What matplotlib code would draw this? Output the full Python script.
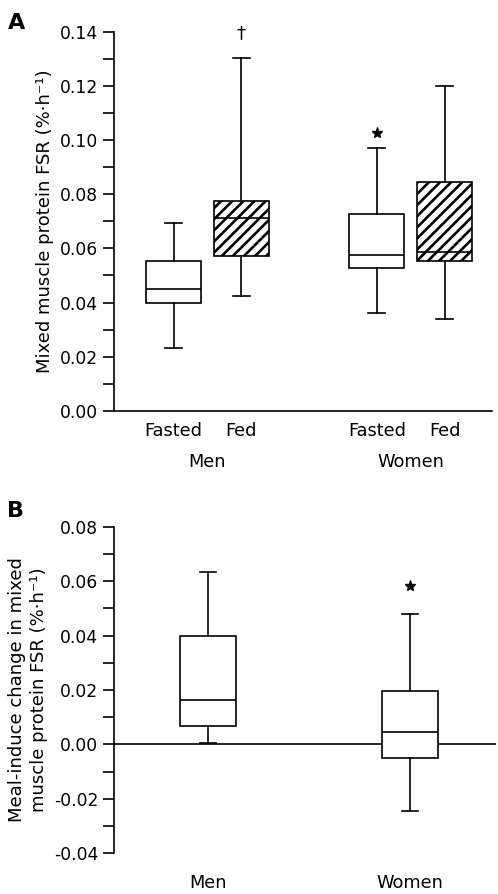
import matplotlib.pyplot as plt
from matplotlib.ticker import MultipleLocator

plt.rcParams['font.family'] = ['DejaVu Sans']
plt.rcParams['axes.unicode_minus'] = False
plt.rcParams['hatch.linewidth'] = 1.9

# panel A: FSR by condition (box stats)
cond_a = ["Fasted", "Fed", "Fasted", "Fed"]
sex_a = ["Men", "Women"]
pos_a = [1, 2, 4, 5]
lo_a = [0.0231, 0.0424, 0.0360, 0.0339]
q1_a = [0.0397, 0.0573, 0.0529, 0.0553]
med_a = [0.0450, 0.0712, 0.0576, 0.0586]
q3_a = [0.0555, 0.0774, 0.0727, 0.0847]
hi_a = [0.0695, 0.1305, 0.0972, 0.1201]
hatched_a = [False, True, False, True]
marks_a = ["", "†", "*", ""]

# panel B: meal-induced change
sex_b = ["Men", "Women"]
pos_b = [1, 2]
lo_b = [0.0004, -0.0246]
q1_b = [0.0066, -0.0049]
med_b = [0.0164, 0.0044]
q3_b = [0.0400, 0.0195]
hi_b = [0.0633, 0.0480]
marks_b = ["", "*"]

fig = plt.figure(figsize=(4.98, 8.94), dpi=100)
axA = fig.add_axes([0.2289, 0.5406, 0.7591, 0.4236])
axB = fig.add_axes([0.2289, 0.0455, 0.7671, 0.3654])

lw = 1.2


def draw_boxes(ax, pos, lo, q1, med, q3, hi, width, capw, hatched=None):
    stats = []
    for i in range(len(pos)):
        stats.append(dict(whislo=lo[i], q1=q1[i], med=med[i], q3=q3[i],
                          whishi=hi[i], fliers=[]))
    b = ax.bxp(stats, positions=pos, widths=width, patch_artist=True,
               showfliers=False, capwidths=capw,
               boxprops=dict(facecolor='white', edgecolor='black', linewidth=lw),
               medianprops=dict(color='black', linewidth=lw),
               whiskerprops=dict(color='black', linewidth=lw),
               capprops=dict(color='black', linewidth=lw))
    if hatched:
        for patch, h in zip(b['boxes'], hatched):
            if h:
                patch.set_hatch('///')
    return b


def draw_mark(ax, x, top, m, off):
    # off: gap above the whisker cap, in axis fraction
    lo, hi = ax.get_ylim()
    y = top + off * (hi - lo)
    if m == "*":
        ax.plot([x], [y], marker='*', ms=8, color='black', clip_on=False)
    elif m:
        ax.text(x, y, m, ha='center', va='center', fontsize=13)


# ---- panel A
draw_boxes(axA, pos_a, lo_a, q1_a, med_a, q3_a, hi_a, 0.81, 0.25, hatched_a)
axA.set_xlim(0.12, 5.7)
axA.set_ylim(0, 0.14)
axA.yaxis.set_major_locator(MultipleLocator(0.02))
axA.yaxis.set_minor_locator(MultipleLocator(0.01))
axA.yaxis.set_major_formatter(plt.FormatStrFormatter('%.2f'))
axA.set_xticks(pos_a)
axA.set_xticklabels(cond_a)
axA.tick_params(axis='x', length=0, pad=8, labelsize=12.8)
axA.tick_params(axis='y', which='both', length=8, width=lw, labelsize=12.3)
for s in ['top', 'right']:
    axA.spines[s].set_visible(False)
for s in ['left', 'bottom']:
    axA.spines[s].set_linewidth(lw)
for p, h, m in zip(pos_a, hi_a, marks_a):
    draw_mark(axA, p, h, m, 0.066 if m == "†" else 0.040)
for i, s in enumerate(sex_a):
    xc = (pos_a[2 * i] + pos_a[2 * i + 1]) / 2
    axA.text(xc, -0.0189, s, ha='center', va='center', fontsize=12.8)
axA.set_ylabel("Mixed muscle protein FSR (%·h⁻¹)", fontsize=13, labelpad=4)
fig.text(0.015, 0.985, "A", fontsize=16, fontweight='bold', va='top')

# ---- panel B
draw_boxes(axB, pos_b, lo_b, q1_b, med_b, q3_b, hi_b, 0.277, 0.08)
axB.set_xlim(0.535, 2.426)
axB.set_ylim(-0.04, 0.08)
axB.axhline(0, color='black', linewidth=lw, zorder=0.5)
axB.yaxis.set_major_locator(MultipleLocator(0.02))
axB.yaxis.set_minor_locator(MultipleLocator(0.01))
axB.yaxis.set_major_formatter(plt.FormatStrFormatter('%.2f'))
axB.set_xticks(pos_b)
axB.set_xticklabels(sex_b)
axB.tick_params(axis='x', length=0, pad=15, labelsize=12.8)
axB.tick_params(axis='y', which='both', length=8, width=lw, labelsize=12.3)
for s in ['top', 'right', 'bottom']:
    axB.spines[s].set_visible(False)
axB.spines['left'].set_linewidth(lw)
for p, h, m in zip(pos_b, hi_b, marks_b):
    draw_mark(axB, p, h, m, 0.086)
axB.set_ylabel("Meal-induce change in mixed\nmuscle protein FSR (%·h⁻¹)",
               fontsize=13, labelpad=4, linespacing=1.3)
fig.text(0.015, 0.44, "B", fontsize=16, fontweight='bold', va='top')

fig.savefig("out.png", dpi=100)
